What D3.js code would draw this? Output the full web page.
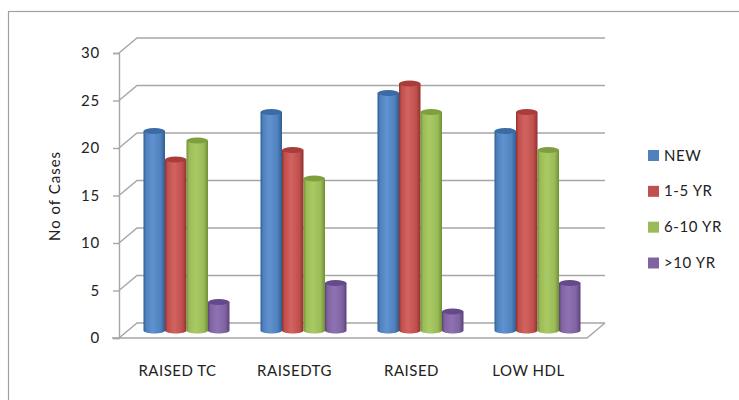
<!DOCTYPE html>
<html>
<head>
<meta charset="utf-8">
<style>
html,body{margin:0;padding:0;background:#fff}
svg{display:block}
text{font-family:Lato,"Open Sans",sans-serif;fill:#222}
</style>
<script src="https://cdn.jsdelivr.net/npm/d3@7/dist/d3.min.js"></script>
</head>
<body>
<svg id="chart" width="739" height="400"></svg>
<script>
const categories = ["RAISED TC", "RAISEDTG", "RAISED", "LOW HDL"];
const seriesNames = ["NEW", "1-5 YR", "6-10 YR", ">10 YR"];
const newCases = [21, 23, 25, 21];
const oneToFive = [18, 19, 26, 23];
const sixToTen = [20, 16, 23, 19];
const overTen = [3, 5, 2, 5];
const yTicks = [0, 5, 10, 15, 20, 25, 30];
const seriesColors = [
  {base: "#4f81bd", dark: "#2f5d93", light: "#5f92cf", top: "#3a6ba5"},
  {base: "#c0504d", dark: "#92302d", light: "#d26360", top: "#a83d3a"},
  {base: "#9bbb59", dark: "#6f9032", light: "#a9ca63", top: "#7f9f3e"},
  {base: "#8064a2", dark: "#5a4279", light: "#8f72b2", top: "#65498a"}
];
const seriesValues = [newCases, oneToFive, sixToTen, overTen];

const svg = d3.select("#chart");
const depth = {x: 18, y: -15};
const y = d3.scaleLinear().domain([0, 30]).range([338, 53]);
const x = d3.scaleBand().domain(categories).range([119, 587]);
const inner = d3.scaleBand().domain(d3.range(4)).range([0, 86]);
const clusterPad = (x.bandwidth() - inner.range()[1]) / 2;
const wallColor = "#a6a6a6";

// outer frame of the chart area
svg.append("rect").attr("x", 8.5).attr("y", 11.5).attr("width", 740).attr("height", 400)
  .attr("fill", "#fff").attr("stroke", "#a0a0a0").attr("stroke-width", 1.2);

// gradients giving the bars their cylinder shading
const defs = svg.append("defs");
seriesColors.forEach((c, i) => {
  const g = defs.append("linearGradient").attr("id", "cyl" + i);
  [[0, c.dark], [0.12, c.base], [0.42, c.light], [0.8, c.base], [1, c.dark]].forEach(([o, col]) =>
    g.append("stop").attr("offset", o).attr("stop-color", col));
});

// gridlines on the back wall, with the side-wall and floor returns
const grid = svg.append("g").attr("fill", "none").attr("stroke", wallColor).attr("stroke-width", 1.4);
yTicks.forEach(t => {
  const p = d3.path();
  p.moveTo(x.range()[0], y(t));
  p.lineTo(x.range()[0] + depth.x, y(t) + depth.y);
  p.lineTo(x.range()[1] + depth.x, y(t) + depth.y);
  grid.append("path").attr("d", p.toString());
});
// floor front edge and right return
const floor = d3.path();
floor.moveTo(x.range()[0] - 7, y(0));
floor.lineTo(x.range()[1], y(0));
floor.lineTo(x.range()[1] + depth.x, y(0) + depth.y);
grid.append("path").attr("d", floor.toString());

// vertical axis with ticks, labels supplied by d3
const axis = svg.append("g").attr("transform", `translate(${x.range()[0]},0)`)
  .call(d3.axisLeft(y).tickValues(yTicks).tickSize(6).tickPadding(4).tickFormat(d3.format("d")));
axis.selectAll("path,line").attr("stroke", wallColor).attr("stroke-width", 1.4);
axis.selectAll("text").attr("font-size", 15).style("font-family", "Lato,sans-serif")
  .style("letter-spacing", "0.8px").attr("fill", "#222").attr("x", -19);

// cylinders, drawn back to front within each cluster
const rx = inner.bandwidth() / 2;
const ry = 3;
categories.forEach((cat, ci) => {
  seriesValues.forEach((values, si) => {
    const cx = x(cat) + clusterPad + inner(si) + rx + depth.x / 2;
    const yBase = y(0) + depth.y / 2;
    const yTop = y(values[ci]) + depth.y / 2;
    const g = svg.append("g");
    const body = d3.path();
    body.moveTo(cx - rx, yTop);
    body.lineTo(cx - rx, yBase);
    body.bezierCurveTo(cx - rx, yBase + ry * 1.3, cx + rx, yBase + ry * 1.3, cx + rx, yBase);
    body.lineTo(cx + rx, yTop);
    body.closePath();
    g.append("path").attr("d", body.toString()).attr("fill", `url(#cyl${si})`);
    g.append("ellipse").attr("cx", cx).attr("cy", yTop).attr("rx", rx).attr("ry", ry)
      .attr("fill", seriesColors[si].top);
  });
});

// category labels
svg.append("g").selectAll("text").data(categories).join("text")
  .attr("x", d => x(d) + x.bandwidth() / 2)
  .attr("y", 376).attr("text-anchor", "middle").attr("font-size", 15)
  .style("letter-spacing", "0.5px")
  .text(d => d);

// value axis title
svg.append("text").attr("transform", "translate(60,196) rotate(-90)")
  .attr("text-anchor", "middle").attr("font-size", 15)
  .style("letter-spacing", "1px").text("No of Cases");

// legend
const legendY = d3.scalePoint().domain(seriesNames).range([155.5, 263]);
const legend = svg.append("g").selectAll("g").data(seriesNames).join("g")
  .attr("transform", d => `translate(648,${legendY(d)})`);
legend.append("rect").attr("x", 0).attr("y", -5.5).attr("width", 11).attr("height", 11)
  .attr("fill", (d, i) => seriesColors[i].base);
legend.append("text").attr("x", 16).attr("y", 5).attr("font-size", 15)
  .style("letter-spacing", "0.6px").text(d => d);
</script>
</body>
</html>
